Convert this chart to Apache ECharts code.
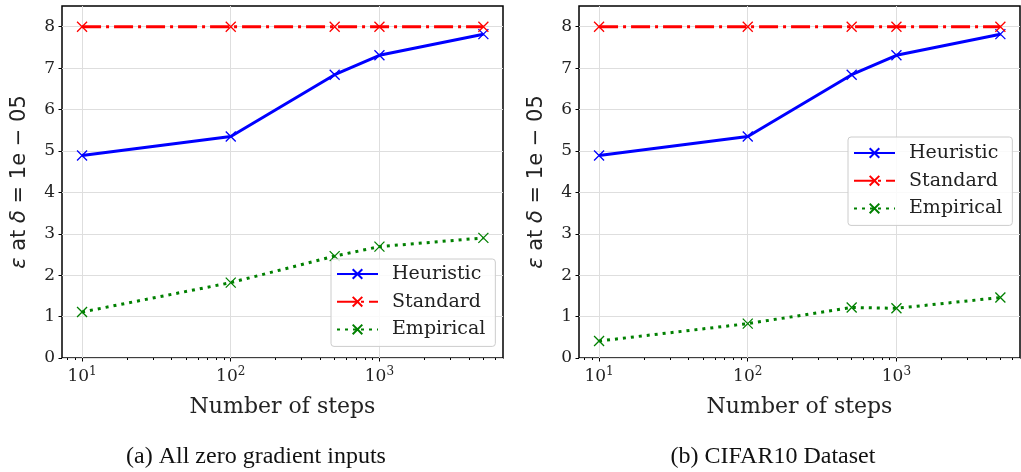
<!DOCTYPE html>
<html>
<head>
<meta charset="utf-8">
<script src="https://cdn.jsdelivr.net/npm/echarts@6/dist/echarts.min.js"></script>
<style>
  html, body { margin: 0; padding: 0; background: #fff; }
  #chart { width: 1021px; height: 472px; }
</style>
</head>
<body>
<div id="chart"></div>
<script>
const steps = [10, 100, 500, 1000, 5000];
const heuristicA = [4.89, 5.35, 6.84, 7.31, 7.82];
const standardA = [8, 8, 8, 8, 8];
const empiricalA = [1.11, 1.82, 2.46, 2.69, 2.90];
const heuristicB = [4.89, 5.35, 6.84, 7.31, 7.82];
const standardB = [8, 8, 8, 8, 8];
const empiricalB = [0.41, 0.83, 1.22, 1.20, 1.46];
const yTicks = [0, 1, 2, 3, 4, 5, 6, 7, 8];
const xMajor = [10, 100, 1000];
const xMinor = [8, 9, 20, 30, 40, 50, 60, 70, 80, 90, 200, 300, 400, 500, 600, 700, 800, 900, 2000, 3000, 4000, 5000, 6000];
const captions = ['(a) All zero gradient inputs', '(b) CIFAR10 Dataset'];

const chart = echarts.init(document.getElementById('chart'));

const xMin = 7.33, xMax = 6776;
const cross = 'path://M0,0L10,10M10,0L0,10';
const tickFont = 'DejaVu Serif';

function pairs(vals) {
  return steps.map((s, i) => [s, vals[i]]);
}

function lineSeries(name, vals, idx, color, dash) {
  return {
    name: name,
    type: 'line',
    xAxisIndex: idx * 2,
    yAxisIndex: idx,
    data: pairs(vals),
    symbol: cross,
    symbolSize: 10,
    showSymbol: true,
    itemStyle: { color: 'rgba(0,0,0,0)', borderColor: color, borderWidth: 1.3 },
    lineStyle: { color: color, width: 3, type: dash, cap: 'butt' },
    emphasis: { disabled: true },
    animation: false
  };
}

const grids = [
  { left: 62, top: 6, width: 441, height: 352 },
  { left: 579, top: 6, width: 441, height: 352 }
];

const xAxes = [];
const yAxes = [];
grids.forEach((g, i) => {
  xAxes.push({
    type: 'log',
    logBase: 10,
    gridIndex: i,
    min: xMin,
    max: xMax,
    name: 'Number of steps',
    nameLocation: 'middle',
    nameGap: 38,
    nameTextStyle: { fontFamily: tickFont, fontSize: 22, color: '#222' },
    axisLine: { show: false },
    axisTick: { show: true, customValues: xMajor, length: 3.5, lineStyle: { color: '#000', width: 1 } },
    axisLabel: {
      customValues: xMajor,
      margin: 8,
      formatter: v => '{b|10}{s|' + Math.round(Math.log10(v)) + '}',
      rich: {
        b: { fontFamily: tickFont, fontSize: 17, color: '#222' },
        s: { fontFamily: tickFont, fontSize: 12, color: '#222', verticalAlign: 'bottom', padding: [0, 0, 9, 0] }
      }
    },
    splitLine: { show: true, lineStyle: { color: '#dedede', width: 1 } }
  });
  xAxes.push({
    type: 'log',
    logBase: 10,
    gridIndex: i,
    min: xMin,
    max: xMax,
    position: 'bottom',
    axisLine: { show: false },
    axisTick: { show: true, customValues: xMinor, length: 2, lineStyle: { color: '#000', width: 1 } },
    axisLabel: { show: false },
    splitLine: { show: false }
  });
  yAxes.push({
    type: 'value',
    gridIndex: i,
    min: 0,
    max: 8.5,
    name: '{i|ε} at {i|δ} = 1e − 05',
    nameLocation: 'middle',
    nameRotate: 90,
    nameGap: 32,
    nameTextStyle: {
      fontFamily: 'DejaVu Sans', fontSize: 21, color: '#222',
      rich: { i: { fontFamily: 'DejaVu Sans', fontStyle: 'italic', fontSize: 21, color: '#222' } }
    },
    axisLine: { show: false },
    axisTick: { show: true, customValues: yTicks, length: 3.5, lineStyle: { color: '#000', width: 1 } },
    axisLabel: { customValues: yTicks, fontFamily: tickFont, fontSize: 17, color: '#222', margin: 7 },
    splitLine: { show: true, lineStyle: { color: '#dedede', width: 1 } }
  });
});

const legendBase = {
  orient: 'vertical',
  itemWidth: 41,
  itemHeight: 12,
  itemGap: 7.7,
  borderColor: '#cccccc',
  borderWidth: 1,
  borderRadius: 3,
  backgroundColor: 'rgba(255,255,255,0.85)',
  textStyle: { fontFamily: tickFont, fontSize: 19, color: '#222', lineHeight: 20, padding: [0, 0, 0, 9] },
  data: ['Heuristic', 'Standard', 'Empirical'],
  selectedMode: false
};

const captionStyle = { textAlign: 'center', textVerticalAlign: 'middle', fontFamily: 'Liberation Serif', fontSize: 24, fill: '#111' };

const option = {
  animation: false,
  backgroundColor: '#fff',
  grid: grids.map(g => Object.assign({ show: true, borderColor: '#000', borderWidth: 1.5, backgroundColor: 'transparent' }, g)),
  xAxis: xAxes,
  yAxis: yAxes,
  legend: [
    Object.assign({ left: 331, top: 259, padding: [5, 10, 7, 5] }, legendBase),
    Object.assign({ left: 848, top: 137, padding: [6, 10, 7, 5] }, legendBase)
  ],
  series: [
    lineSeries('Heuristic', heuristicA, 0, '#0000ff', 'solid'),
    lineSeries('Standard', standardA, 0, '#ff0000', [19, 5, 3, 5]),
    lineSeries('Empirical', empiricalA, 0, '#008000', [3, 5]),
    lineSeries('Heuristic', heuristicB, 1, '#0000ff', 'solid'),
    lineSeries('Standard', standardB, 1, '#ff0000', [19, 5, 3, 5]),
    lineSeries('Empirical', empiricalB, 1, '#008000', [3, 5])
  ],
  graphic: [
    { type: 'text', style: Object.assign({ text: captions[0], x: 256, y: 457 }, captionStyle) },
    { type: 'text', style: Object.assign({ text: captions[1], x: 773, y: 457 }, captionStyle) }
  ]
};

chart.setOption(option);
window.addEventListener('resize', () => chart.resize());
</script>
</body>
</html>
